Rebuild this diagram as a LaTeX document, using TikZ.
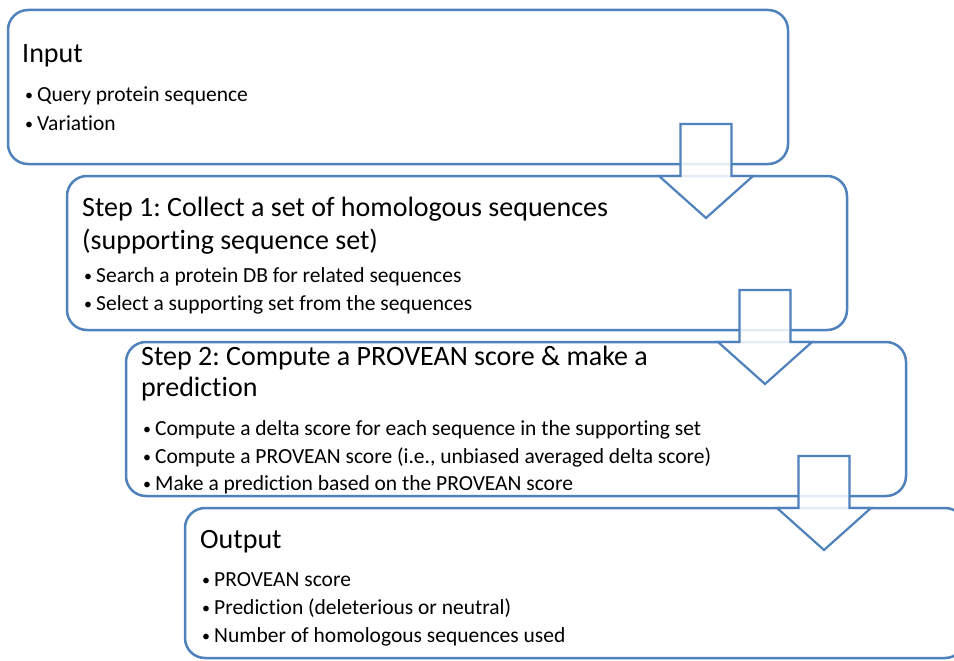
\documentclass[tikz,border=0pt]{standalone}
\usepackage{fontspec}
\setmainfont{Carlito}[Ligatures=NoCommon]
\usetikzlibrary{calc}
\definecolor{stageblue}{RGB}{79,129,189}
\frenchspacing

\tikzset{
  stagebox/.style={draw=stageblue, fill=white, line width=2.5pt, rounded corners=20pt,
    minimum width=780pt, minimum height=154pt, inner sep=0pt, outer sep=0pt},
  headline/.style={anchor=base west, inner sep=0pt, font=\fontsize{28}{33}\selectfont},
  bulletline/.style={anchor=base west, inner sep=0pt, font=\fontsize{21.5}{26}\selectfont},
  blockarrow/.style={draw=stageblue, fill=white, fill opacity=0.85, line width=2.2pt, line join=miter}
}
\newcommand{\itemdot}{\makebox[12pt][l]{\raisebox{1pt}{\fontsize{16}{16}\selectfont•}}}

\begin{document}
\begin{tikzpicture}[x=1pt, y=-1pt]
\clip (0,0) rectangle (954,661);

% stage boxes
\node[stagebox] (input) at (398,87) {};
\node[stagebox] (stepone) at (457,253) {};
\node[stagebox] (steptwo) at (516,419) {};
\node[stagebox, minimum height=150pt] (output) at (575,583) {};

% input
\node[headline] (inputtitle) at (22,63) {Input};
\node[bulletline] (inputa) at (25,102) {\itemdot Query protein sequence};
\node[bulletline] (inputb) at (25,130) {\itemdot Variation};

% step 1
\node[headline] (steponetitle) at (82,216) {Step 1: Collect a set of homologous sequences};
\node[headline] (steponetitleb) at (82,249) {(supporting sequence set)};
\node[bulletline] (steponea) at (84,282) {\itemdot Search a protein DB for related sequences};
\node[bulletline] (steponeb) at (84,310) {\itemdot Select a supporting set from the sequences};

% step 2
\node[headline] (steptwotitle) at (141,365) {Step 2: Compute a PROVEAN score \& make a};
\node[headline] (steptwotitleb) at (141,396) {prediction};
\node[bulletline] (steptwoa) at (143,435) {\itemdot Compute a delta score for each sequence in the supporting set};
\node[bulletline] (steptwob) at (143,463) {\itemdot Compute a PROVEAN score (i.e., unbiased averaged delta score)};
\node[bulletline] (steptwoc) at (143,490) {\itemdot Make a prediction based on the PROVEAN score};

% output
\node[headline] (outputtitle) at (200,548) {Output};
\node[bulletline] (outputa) at (202,586) {\itemdot PROVEAN score};
\node[bulletline] (outputb) at (202,614) {\itemdot Prediction (deleterious or neutral)};
\node[bulletline] (outputc) at (202,642) {\itemdot Number of homologous sequences used};

% block arrows between stages
\foreach \upper/\lower in {input/stepone,stepone/steptwo,steptwo/output}
  \draw[blockarrow] let \p1=(\upper.south east), \p2=(\lower.north) in
    (\x1-107.5pt,\y1+40pt) -- (\x1-56.5pt,\y1+40pt) -- (\x1-56.5pt,\y2) -- (\x1-35pt,\y2)
    -- (\x1-82pt,\y2-42pt) -- (\x1-129pt,\y2) -- (\x1-107.5pt,\y2) -- cycle;
\end{tikzpicture}
\end{document}
